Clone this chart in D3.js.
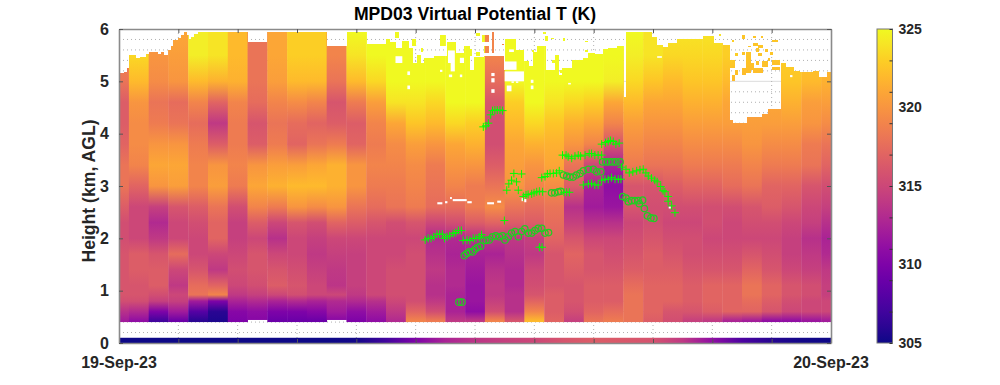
<!DOCTYPE html>
<html>
<head>
<meta charset="utf-8">
<script src="https://cdn.jsdelivr.net/npm/d3@7"></script>
<style>
  html, body { margin: 0; padding: 0; background: #fff; }
  svg text { font-family: "Liberation Sans", Arial, sans-serif; font-weight: bold; }
</style>
</head>
<body>
<div id="chart"></div>
<script>
// MPD03 virtual potential temperature

const heights = [0.42, 0.6, 0.8, 0.92, 1.1, 1.4, 1.7, 2.0, 2.3, 2.6, 3.0, 3.4, 3.8, 4.2, 4.6, 5.0, 5.5, 5.95];

// one row per profile, profiles are 40 minutes apart
const thetaV = [
  [312,313.5,315.5,316,316,316,316,315.5,315.5,316.5,318,318,317,316.5,316.5,318,319,319],
  [311,313,315.5,316,316,316.5,316.5,315,315,315,317,319,319.5,319.5,320,322,323.5,324],
  [307,310,314.5,315.5,316.5,316.5,316,314,313,314.5,320,321,320,318.5,318,319.5,320,320],
  [309,312,314.5,315,314,315,317.5,315,315,316,320.5,321,320,318,317.5,320,320.5,321],
  [306,308,312,318,317.5,316,315,315,315.5,316.5,319,319,318.5,317.5,319,322,324.5,324.5],
  [305.5,306,310,319,317,314,315,317,317,318,320.5,320,316.5,314,317,321.5,324,324],
  [310,310.5,312.5,314,315,315.5,315,314.5,314.5,315.5,318.5,319,318.5,318.5,319,321.5,322,322],
  [310.5,311,313,314.5,315.5,316,316,315,316.5,319,321,320,316.5,316,317.5,318,318,318],
  [309,310,312.5,315,316.5,316,315,313.5,315,318.5,321.5,320.5,318.5,318,319,320.5,321,321],
  [309,310,313,315.5,316,315.5,315,315,316,320,322,320.5,317,317.5,319.5,322,323,323],
  [309,310.5,312.5,315,315,314.5,314,314.5,315.5,319.5,322,321,318,317,319,322,323,323],
  [310.5,312,313,315,313.8,314,314.5,315,317,320,321.5,321.5,318.5,316.5,316,318,319,319],
  [310,311,313,314,314.5,314.5,314.5,315,316.5,318,320,320,317,316.5,318.5,322,324,325],
  [311,312,313.5,315,315,315,315,315,316,317.5,318.5,319,318.5,319,320.5,323.5,325,325],
  [313,314,315,315.5,315.5,315.5,315,315,315.5,318,318.5,319,319.5,321,324,325,325,325],
  [319,317,315.5,315.5,315.5,315.5,315.5,315,316,318.5,319,319.5,320.5,322.5,324,325,325,325],
  [318.5,315.5,314,313.5,313.5,314,313.5,313,315,317.5,318,318.5,320,322,323.5,325,325,325],
  [314,312.5,312.5,312.5,313,313,312.5,313,315.5,317.5,319,320,321,323.5,325,325,325,325],
  [314,311,311.5,311.5,311.5,312,312.5,313.5,316.5,318.5,318.5,320,321.5,323,325,325,325,325],
  [319,315.5,314.5,314,314,313.5,312.5,314,317,319.5,318,316.5,315.5,315.5,316,317.5,319,319],
  [316,313.5,313.5,313.5,313,313,313.5,314,316.5,318,320,320.5,321,322,323,325,325,325],
  [322,319,317,316,315.5,315,314,314.5,316.5,317.5,319,320,321.5,323.5,325,325,325,325],
  [317,316.5,316.5,316.5,316,316,316,317,317.5,318,319.5,321,321.5,322.5,324,325,325,325],
  [314.5,315.5,316,316,316,316.5,317,316,314.5,313.5,316.5,318,320,321.5,323.5,325,325,325],
  [318,317,316.5,316.5,316.5,316,316,315,313.5,312,312.5,315,319,321,323,325,325,325],
  [318.5,317.5,316.5,316.5,316.5,316,315.5,315,313.5,311.5,311,312.5,316,319,321,324.5,325,325],
  [318,318,318,318,317.5,316.5,316,315.5,315,316,316,318.5,319.5,320.5,322,323.5,324.5,325],
  [316.5,317,317,317,317,316.5,316.5,316,315.5,315.5,316,318,319,320,321,322.5,324,324],
  [315.5,316,317,317,317,316.5,316,315.5,315,315.5,316.5,318,319,320,321,322,323.5,324],
  [314.5,316,316.5,316.5,316.5,316,315.5,315.5,315,315.5,317,318.5,319.5,320.5,321.5,322.5,323.5,324],
  [314,316.5,317,317,317,316,315.5,315,315.5,315.5,317,318.5,319.5,320.5,321.5,322.5,323.5,324],
  [312.5,317,317,317,317,316,315.5,315,315,315.5,317.5,318.5,319.5,320.5,321,322,323,323],
  [312,317,317.5,318,318,317,316,315,315.5,316,318,319,320,320.5,321,322,322.5,322.5],
  [311,316,316.5,317,317,316,315.5,315,315.5,316.5,317,318.5,319.5,320.5,321,322,322.5,322.5],
  [311,315,315.5,316,316,315,314.5,314.5,315,316,317,318.5,319.5,320.5,321.5,322.5,323,323],
  [311.5,315,315,315.5,315.5,314.5,314,313.5,314.5,315,316,318,318.5,320,320.5,322,322.5,323],
  [312,315,315,314.5,314.5,314,313,312.5,313.5,314.5,315.5,317,318,319.5,320.5,321.5,322,322]
];

// lowest good gate of each profile
const floorHeights = [0.4,0.4,0.4,0.4,0.4,0.4,0.4,0.44,0.4,0.4,0.4,0.44,0.4,0.4,0.4,0.4,0.4,0.4,0.4,0.4,0.4,0.4,0.4,0.4,0.4,0.4,0.4,0.4,0.4,0.4,0.4,0.4,0.4,0.4,0.4,0.4,0.4];

// top of the good data, each height holds until the next hour in the list
const topHours = [0,0.17,0.27,0.34,0.54,0.7,0.9,1.0,1.3,1.42,1.5,1.65,1.75,1.83,2.0,2.1,2.2,2.27,2.33,2.43,2.53,2.66,4.34,5.0,7.0,7.67,8.33,
  9.0,9.1,9.32,9.55,9.77,9.89,10.05,10.17,10.28,10.62,11.07,11.35,11.63,11.8,11.96,12.3,12.97,13.0,13.35,13.63,13.8,13.96,14.08,14.38,14.69,14.81,14.92,15.26,15.65,15.82,16.04,16.32,16.49,16.77,
  16.99,17.08,17.96,18.13,18.3,18.5,18.8,19.68,20.03,20.33,20.56,20.69,21.17,21.67,21.88,22.3,22.45,22.72,22.95,23.4,23.56,23.87];
const topHeights = [5.15,5.18,5.25,5.5,5.45,5.47,5.53,5.56,5.53,5.56,5.5,5.6,5.68,5.79,5.82,5.88,5.94,5.88,5.8,5.85,5.9,5.94,5.75,5.94,5.67,5.94,5.71,
  5.8,5.75,5.64,5.78,5.64,5.35,5.51,5.35,5.45,5.48,5.76,5.55,5.67,5.22,5.47,5.48,5.22,5.8,5.6,5.38,5.29,5.57,5.67,5.22,5.51,5.13,5.26,5.41,5.45,5.54,5.52,5.62,5.64,5.67,
  4.7,5.94,5.85,5.7,5.65,5.74,5.8,5.87,5.74,5.7,4.26,4.21,4.32,4.37,4.48,5.35,5.28,5.2,5.17,5.2,5.08,5.17];

// patches of data above that top: hour from, hour to, height from, height to
const dataPatches = [
  [9.32,9.44,5.83,5.94],[9.89,10.0,5.67,5.8],[10.17,10.26,5.56,5.64],[10.82,11.01,5.67,5.89],[11.8,11.91,5.48,5.61],
  [12.05,12.17,5.86,5.92],[12.05,12.17,5.48,5.57],[12.24,12.47,5.75,5.88],[12.3,12.47,5.54,5.67],[12.56,12.64,5.54,5.94],[12.9,12.98,5.69,5.71],
  [14.3,14.39,5.9,5.94],[14.36,14.47,5.77,5.86],[14.56,14.66,5.8,5.83],[14.97,15.05,5.77,5.83],[15.7,15.8,5.75,5.78],[15.7,15.8,5.57,5.6],[13.91,14.0,5.57,5.6],
  [14.86,14.94,5.16,5.22],[14.58,14.69,5.35,5.41],
  [20.21,20.3,5.87,5.9],[20.99,21.1,5.8,5.89],[21.38,21.47,5.83,5.87],[21.64,21.72,5.83,5.87],[20.65,20.74,5.76,5.79],[22.0,22.22,5.76,5.79],
  [21.37,21.54,5.68,5.74],[21.54,21.7,5.64,5.69],[21.2,21.32,5.66,5.68],[21.47,21.56,5.57,5.64],[21.77,21.88,5.57,5.61],[21.94,22.05,5.5,5.57],
  [20.76,20.87,5.49,5.54],[20.99,21.1,5.5,5.57],[21.13,21.29,5.15,5.57],[21.29,21.4,5.22,5.35],[21.54,21.66,5.48,5.54],[21.47,21.56,5.31,5.38],
  [21.66,21.88,5.28,5.38],[21.88,21.96,5.39,5.44],[22.0,22.28,5.31,5.41],[21.38,21.72,5.15,5.25],[20.6,20.76,5.25,5.41],[20.76,20.87,5.12,5.22],
  [20.99,21.15,5.12,5.25],[22.0,22.28,5.22,5.28],[20.65,20.76,5.0,5.12]
];

// missing gates below the top, same layout
const dataGaps = [
  [9.32,9.55,5.35,5.48],[11.09,11.32,5.35,5.59],[11.18,11.32,5.19,5.35],[11.49,11.63,5.35,5.45],[9.72,9.81,5.12,5.19],[9.72,9.81,4.85,4.92],
  [11.12,11.23,5.08,5.13],[11.49,11.57,5.08,5.13],[10.82,10.9,5.18,5.22],[12.55,12.66,5.1,5.16],[12.55,12.66,4.98,5.06],[12.55,12.66,4.78,4.85],
  [13.15,13.31,5.56,5.61],[13.0,13.4,5.22,5.38],[13.0,13.65,5.0,5.19],[13.23,13.31,4.97,5.0],[13.38,13.46,4.97,5.0],[13.07,13.23,4.81,4.92],
  [13.88,13.97,4.97,5.03],[13.88,13.97,4.85,4.92],[15.14,15.23,4.94,4.97],[18.14,18.3,5.45,5.48],[22.62,22.7,5.08,5.12],
  [10.73,10.9,2.65,2.69],[10.99,11.07,2.67,2.71],[11.16,11.22,2.75,2.79],[11.25,11.72,2.71,2.75],[11.74,11.89,2.67,2.71],[12.41,12.64,2.65,2.69],
  [12.75,12.88,2.68,2.72],[13.57,13.62,2.71,2.77],[13.66,13.73,2.69,2.75],[18.53,18.6,2.57,2.61]
];

// surface sensor strip, one value per hour
const surfaceT = [305,305,305,305,305,305,305,305,305.2,307,310,312.5,313.8,314.5,315,316,316.5,316.2,315.8,314,311,307.5,305.8,305.2,305];

// layer heights found by the retrieval: [hour, km]
const plusMarks = [
  [10.32,1.97],[10.42,2.0],[10.52,2.0],[10.61,2.03],[10.72,2.08],[10.81,2.08],[10.9,2.08],[10.97,2.0],[11.06,2.03],[11.15,2.05],[11.26,2.09],[11.35,2.11],[11.44,2.15],[11.54,2.15],
  [11.6,1.96],[11.73,1.97],[11.83,1.96],[11.94,2.0],[12.03,2.0],[12.14,2.03],[12.22,2.07],[12.99,2.34],[14.17,1.83],[14.26,1.83],
  [13.07,2.92],[13.14,3.04],[13.23,3.11],[13.31,3.24],[13.4,3.08],[13.46,2.92],[13.57,3.23],
  [13.63,2.8],[13.72,2.83],[13.79,2.84],[13.91,2.85],[13.99,2.87],[14.08,2.89],[14.17,2.9],[14.28,2.89],
  [14.25,3.16],[14.36,3.18],[14.44,3.23],[14.53,3.24],[14.64,3.24],[14.75,3.25],[14.84,3.29],
  [15.0,2.88],[15.09,2.88],[15.18,2.88],
  [14.95,3.59],[15.07,3.59],[15.14,3.56],[15.26,3.53],[15.37,3.57],[15.48,3.59],[15.56,3.57],[15.71,3.59],[15.85,3.62],[15.93,3.62],[16.04,3.59],[16.15,3.59],[16.27,3.59],
  [16.27,3.8],[16.4,3.83],[16.49,3.85],[16.57,3.87],[16.66,3.85],[16.75,3.8],[16.86,3.82],
  [15.65,3.02],[15.82,3.04],[15.93,3.05],[16.04,3.02],[16.15,3.02],[16.27,3.11],[16.38,3.13],[16.49,3.13],[16.6,3.16],[16.72,3.13],[16.83,3.13],[16.92,3.13],
  [16.94,3.36],[17.09,3.32],[17.2,3.25],[17.32,3.27],[17.45,3.29],[17.56,3.31],[17.67,3.32],[17.76,3.25],[17.84,3.19],[17.95,3.15],[18.06,3.11],[18.14,3.08],[18.26,2.99],[18.34,2.91],[18.4,2.89],[18.51,2.8],[18.51,2.71],[18.63,2.62],[18.74,2.49],
  [12.28,4.13],[12.37,4.15],[12.45,4.2],[12.53,4.36],[12.59,4.44],[12.67,4.45],[12.75,4.45],[12.84,4.45],[12.93,4.44]
];

const circleMarks = [
  [11.46,0.78],[11.56,0.78],
  [11.64,1.67],[11.72,1.71],[11.81,1.74],[11.92,1.74],[12.0,1.79],[12.09,1.83],[12.19,1.85],[12.28,1.96],[12.37,1.96],[12.48,1.97],[12.59,2.03],[12.7,2.05],[12.82,2.03],[12.93,2.05],
  [13.01,1.97],[13.12,2.03],[13.23,2.1],[13.35,2.13],[13.46,2.03],[13.57,2.13],[13.68,2.18],[13.8,2.1],[13.91,2.1],[14.02,2.15],[14.13,2.19],[14.25,2.19],[14.36,2.1],[14.48,2.11],
  [14.98,3.21],[15.09,3.19],[15.2,3.17],[15.31,3.17],[15.42,3.21],[15.54,3.24],[15.65,3.29],[15.82,3.32],[15.99,3.32],[16.1,3.27],[16.24,3.27],
  [16.3,3.46],[16.41,3.46],[16.52,3.46],[16.64,3.46],[16.75,3.46],[16.89,3.46],
  [14.58,2.87],[14.69,2.87],[14.81,2.89],[14.89,2.9],
  [16.98,2.8],[17.09,2.77],[17.17,2.7],[17.28,2.72],[17.39,2.72],[17.5,2.72],[17.65,2.73],[17.54,2.66],[17.71,2.57],[17.81,2.43],[17.93,2.39],[18.03,2.38]
];

const hourTicks = d3.range(0, 25, 2);
const kmTicks = [0, 1, 2, 3, 4, 5, 6];
const kmGrid = d3.range(0.2, 6, 0.2);
const colorLabels = [305, 310, 315, 320, 325];
const colorMinor = d3.range(305, 326, 2);
const dateLabels = [[0, '19-Sep-23'], [24, '20-Sep-23']];

const profileHours = thetaV.map((d, i) => i * 2 / 3);
const halfStep = 1 / 3;

const svg = d3.select('#chart').append('svg')
  .attr('width', 1000)
  .attr('height', 385);

const x = d3.scaleLinear().domain([0, 24]).range([119, 831]);
const y = d3.scaleLinear().domain([0, 6]).range([343, 29]);
const color = d3.scaleSequential(d3.interpolatePlasma).domain([305, 325]);
const cbarY = d3.scaleLinear().domain([305, 325]).range([343, 29]);

const defs = svg.append('defs');

defs.append('clipPath').attr('id', 'plot-clip')
  .append('rect')
  .attr('x', x(0)).attr('y', y(6))
  .attr('width', x(24) - x(0)).attr('height', y(0) - y(6));

// the good data region: everything below the top line plus the patches above it
const dataClip = defs.append('clipPath').attr('id', 'data-clip');
topHours.forEach((t, i) => {
  const next = i < topHours.length - 1 ? topHours[i + 1] : 24;
  dataClip.append('rect')
    .attr('x', x(t))
    .attr('y', y(topHeights[i]))
    .attr('width', x(next) - x(t) + 0.6)
    .attr('height', y(0.3) - y(topHeights[i]))
    .attr('shape-rendering', 'crispEdges');
});
dataPatches.forEach(p => {
  dataClip.append('rect')
    .attr('x', x(p[0]))
    .attr('y', y(p[3]))
    .attr('width', x(p[1]) - x(p[0]))
    .attr('height', y(p[2]) - y(p[3]))
    .attr('shape-rendering', 'crispEdges');
});

// vertical gradient for each profile
thetaV.forEach((profile, i) => {
  const grad = defs.append('linearGradient')
    .attr('id', 'profile-' + i)
    .attr('gradientUnits', 'userSpaceOnUse')
    .attr('x1', 0).attr('x2', 0)
    .attr('y1', y(heights[0])).attr('y2', y(heights[heights.length - 1]));
  profile.forEach((v, j) => {
    grad.append('stop')
      .attr('offset', (heights[j] - heights[0]) / (heights[heights.length - 1] - heights[0]))
      .attr('stop-color', color(v));
  });
});

const surfaceGrad = defs.append('linearGradient').attr('id', 'surface-grad');
surfaceT.forEach((v, i) => {
  surfaceGrad.append('stop').attr('offset', i / 24).attr('stop-color', color(v));
});

const cbarGrad = defs.append('linearGradient')
  .attr('id', 'cbar-grad')
  .attr('x1', 0).attr('x2', 0).attr('y1', 1).attr('y2', 0);
d3.range(0, 1.001, 0.05).forEach(t => {
  cbarGrad.append('stop').attr('offset', t).attr('stop-color', d3.interpolatePlasma(t));
});

// dotted grid sits under the data
const grid = svg.append('g').attr('clip-path', 'url(#plot-clip)');
grid.selectAll('.minor')
  .data(kmGrid.filter(k => Math.abs(k - Math.round(k)) > 0.01))
  .enter().append('line')
  .attr('x1', x(0)).attr('x2', x(24))
  .attr('y1', d => y(d)).attr('y2', d => y(d))
  .attr('stroke', '#b0b0b0').attr('stroke-width', 1).attr('stroke-dasharray', '1,3');
grid.selectAll('.major')
  .data(kmTicks.slice(1, -1))
  .enter().append('line')
  .attr('x1', x(0)).attr('x2', x(24))
  .attr('y1', d => y(d)).attr('y2', d => y(d))
  .attr('stroke', '#dcdcdc').attr('stroke-width', 1);
grid.selectAll('.vert')
  .data(hourTicks.slice(1, -1))
  .enter().append('line')
  .attr('x1', d => x(d)).attr('x2', d => x(d))
  .attr('y1', y(6)).attr('y2', y(0))
  .attr('stroke', '#b0b0b0').attr('stroke-width', 1).attr('stroke-dasharray', '1,3');

// profiles
const heat = svg.append('g').attr('clip-path', 'url(#plot-clip)')
  .append('g').attr('clip-path', 'url(#data-clip)');
heat.selectAll('rect')
  .data(thetaV)
  .enter().append('rect')
  .attr('x', (d, i) => x(profileHours[i] - halfStep))
  .attr('width', x(2 / 3) - x(0) + 0.4)
  .attr('y', y(6))
  .attr('height', (d, i) => y(floorHeights[i]) - y(6))
  .attr('fill', (d, i) => `url(#profile-${i})`);

svg.append('g').selectAll('rect')
  .data(dataGaps)
  .enter().append('rect')
  .attr('x', d => x(d[0]))
  .attr('y', d => y(d[3]))
  .attr('width', d => x(d[1]) - x(d[0]))
  .attr('height', d => y(d[2]) - y(d[3]))
  .attr('fill', '#fff');

// surface strip
svg.append('rect')
  .attr('x', x(0)).attr('width', x(24) - x(0))
  .attr('y', y(0.1)).attr('height', y(0) - y(0.1))
  .attr('fill', 'url(#surface-grad)');

// markers
const markers = svg.append('g');
markers.selectAll('.o')
  .data(circleMarks)
  .enter().append('circle')
  .attr('cx', d => x(d[0]))
  .attr('cy', d => y(d[1]))
  .attr('r', 3.2)
  .attr('fill', 'none')
  .attr('stroke', '#22cc22')
  .attr('stroke-width', 1.25);
markers.selectAll('.plus')
  .data(plusMarks)
  .enter().append('path')
  .attr('d', d => `M${x(d[0]) - 4},${y(d[1])}H${x(d[0]) + 4}M${x(d[0])},${y(d[1]) - 4}V${y(d[1]) + 4}`)
  .attr('fill', 'none')
  .attr('stroke', '#00ff00')
  .attr('stroke-width', 1);

// axes, ticks point inward on all sides
function styleAxis(g) {
  g.select('.domain').attr('stroke', '#8a8a8a').attr('stroke-width', 1.6);
  g.selectAll('.tick line').attr('stroke', '#555');
  g.selectAll('text').attr('fill', '#262626').style('font-size', '16px');
}

svg.append('g')
  .attr('transform', `translate(0,${y(0)})`)
  .call(d3.axisBottom(x).tickValues(hourTicks).tickSize(-4).tickSizeOuter(0).tickFormat(''))
  .call(styleAxis);
svg.append('g')
  .attr('transform', `translate(0,${y(6)})`)
  .call(d3.axisTop(x).tickValues(hourTicks).tickSize(-4).tickSizeOuter(0).tickFormat(''))
  .call(styleAxis);
svg.append('g')
  .attr('transform', `translate(${x(0)},0)`)
  .call(d3.axisLeft(y).tickValues(kmTicks).tickSize(-4).tickSizeOuter(0).tickPadding(10).tickFormat(d3.format('d')))
  .call(styleAxis);
svg.append('g')
  .attr('transform', `translate(${x(24)},0)`)
  .call(d3.axisRight(y).tickValues(kmTicks).tickSize(-4).tickSizeOuter(0).tickFormat(''))
  .call(styleAxis);

svg.selectAll('.date')
  .data(dateLabels)
  .enter().append('text')
  .attr('x', d => x(d[0]))
  .attr('y', 368)
  .attr('text-anchor', 'middle')
  .attr('fill', '#262626')
  .style('font-size', '16px')
  .text(d => d[1]);

svg.append('text')
  .attr('transform', `translate(95,${y(3) + 5}) rotate(-90)`)
  .attr('text-anchor', 'middle')
  .attr('fill', '#262626')
  .style('font-size', '17.6px')
  .text('Height (km, AGL)');

svg.append('text')
  .attr('x', 475)
  .attr('y', 20)
  .attr('text-anchor', 'middle')
  .attr('fill', '#000')
  .style('font-size', '17.6px')
  .text('MPD03 Virtual Potential T (K)');

// colorbar
svg.append('rect')
  .attr('x', 877).attr('y', cbarY(325))
  .attr('width', 15.5).attr('height', cbarY(305) - cbarY(325))
  .attr('fill', 'url(#cbar-grad)')
  .attr('stroke', '#777')
  .attr('stroke-width', 1);

svg.append('g')
  .attr('transform', 'translate(892.5,0)')
  .call(d3.axisRight(cbarY).tickValues(colorMinor).tickSize(-3).tickSizeOuter(0).tickFormat(''))
  .call(g => g.select('.domain').remove())
  .call(g => g.selectAll('.tick line').attr('stroke', '#333'));

svg.append('g')
  .attr('transform', 'translate(892.5,0)')
  .call(d3.axisRight(cbarY).tickValues(colorLabels).tickSize(0).tickPadding(6))
  .call(g => g.select('.domain').remove())
  .call(g => g.selectAll('text').attr('fill', '#262626').style('font-size', '14px'));
</script>
</body>
</html>
